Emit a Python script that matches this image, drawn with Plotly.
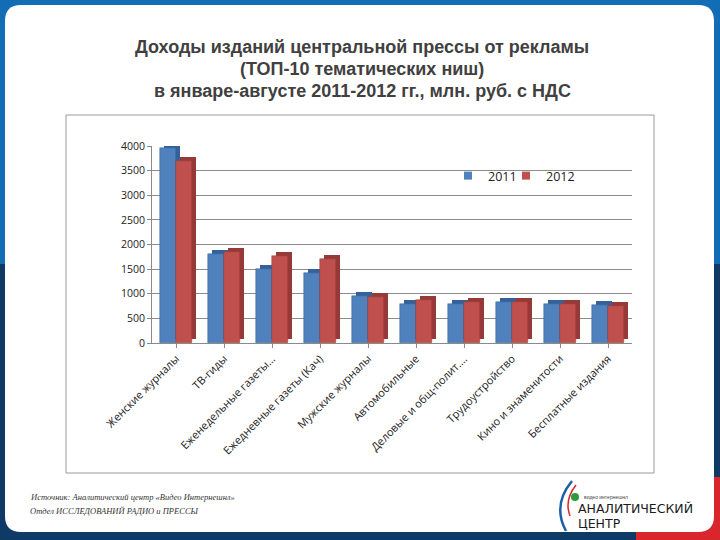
import plotly.graph_objects as go

categories = ["Женские журналы", "ТВ-гиды", "Еженедельные газеты...",
              "Ежедневные газеты (Кач)", "Мужские журналы", "Автомобильные",
              "Деловые и общ-полит....", "Трудоустройство",
              "Кино и знаменитости", "Бесплатные издания"]
values_2011 = [3960, 1810, 1510, 1420, 960, 800, 790, 830, 790, 770]
values_2012 = [3700, 1850, 1770, 1700, 930, 880, 840, 840, 790, 750]
y_ticks = [0, 500, 1000, 1500, 2000, 2500, 3000, 3500, 4000]
series_names = ["2011", "2012"]

W, H = 720, 540
L, R, T, B = 152, 88, 146, 197
PW, PH = W - L - R, H - T - B


def px(x):
    return (x - L) / PW


def py(y):
    return (H - B - y) / PH


front_cols = ["#4f81bd", "#c0504d"]
side_cols = ["#35609a", "#963a37"]
offsets = [-0.33, 0.0]
bw = 0.33
depth_dx = 0.08
depth_dy = 80

fig = go.Figure()
for name, vals, fc, sc, off in zip(series_names, [values_2011, values_2012],
                                   front_cols, side_cols, offsets):
    fig.add_trace(go.Bar(x=categories, y=vals, base=depth_dy, width=bw,
                         offset=off + depth_dx, marker=dict(color=sc, line=dict(width=0)),
                         showlegend=False, hoverinfo="skip"))
    fig.add_trace(go.Bar(x=categories, y=vals, width=bw, offset=off, name=name,
                         showlegend=False,
                         marker=dict(color=fc, line=dict(width=0.5, color=sc))))
for name, fc, lg in zip(series_names, front_cols, ["legend", "legend2"]):
    fig.add_trace(go.Scatter(x=[None], y=[None], mode="markers", name=name, legend=lg,
                             marker=dict(symbol="square", size=8, color=fc)))

shapes = []
# slide background
shapes.append(dict(type="rect", xref="paper", yref="paper", x0=px(-2), x1=px(W + 2),
                   y0=py(-2), y1=py(264), fillcolor="#136db6", line=dict(width=0), layer="below"))
shapes.append(dict(type="rect", xref="paper", yref="paper", x0=px(-2), x1=px(W + 2),
                   y0=py(264), y1=py(H + 2), fillcolor="#103a66", line=dict(width=0), layer="below"))
shapes.append(dict(type="rect", xref="paper", yref="paper", x0=px(712), x1=px(W + 2),
                   y0=py(477), y1=py(H + 2), fillcolor="#d8262c", line=dict(width=0), layer="below"))
shapes.append(dict(type="rect", xref="paper", yref="paper", x0=px(636), x1=px(W + 2),
                   y0=py(527), y1=py(H + 2), fillcolor="#d8262c", line=dict(width=0), layer="below"))
# white rounded panel
x0, x1, y0, y1, r = 5, 714, 5, 532, 16
path = (f"M {px(x0 + r)},{py(y0)} L {px(x1 - r)},{py(y0)} Q {px(x1)},{py(y0)} {px(x1)},{py(y0 + r)} "
        f"L {px(x1)},{py(y1 - r)} Q {px(x1)},{py(y1)} {px(x1 - r)},{py(y1)} "
        f"L {px(x0 + r)},{py(y1)} Q {px(x0)},{py(y1)} {px(x0)},{py(y1 - r)} "
        f"L {px(x0)},{py(y0 + r)} Q {px(x0)},{py(y0)} {px(x0 + r)},{py(y0)} Z")
shapes.append(dict(type="path", xref="paper", yref="paper", path=path,
                   fillcolor="#ffffff", line=dict(width=0), layer="below"))
# chart box
shapes.append(dict(type="rect", xref="paper", yref="paper", x0=px(66), x1=px(654),
                   y0=py(115), y1=py(473), fillcolor="#ffffff",
                   line=dict(width=1, color="#9a9a9a"), layer="below"))
# logo arc
shapes.append(dict(type="path", xref="paper", yref="paper",
                   path=f"M {px(572)},{py(481)} Q {px(552)},{py(505)} {px(566)},{py(531)}",
                   line=dict(width=2.5, color="#1f5fa8")))
shapes.append(dict(type="path", xref="paper", yref="paper",
                   path=f"M {px(576)},{py(485)} Q {px(564)},{py(500)} {px(570)},{py(516)}",
                   line=dict(width=1.5, color="#d8262c")))
shapes.append(dict(type="circle", xref="paper", yref="paper",
                   x0=px(571), x1=px(579), y0=py(493), y1=py(501),
                   fillcolor="#2e9a3e", line=dict(width=0)))

title_font = dict(family="Liberation Sans", size=18, color="#404040")
annotations = []
for i, line in enumerate(["<b>Доходы изданий центральной прессы от рекламы</b>",
                          "<b>(ТОП-10 тематических ниш)</b>",
                          "<b>в январе-августе 2011-2012 гг., млн. руб. с НДС</b>"]):
    annotations.append(dict(text=line, xref="paper", yref="paper", x=px(362), y=py(47 + 22 * i),
                            xanchor="center", yanchor="middle", showarrow=False, font=title_font))
foot_font = dict(family="Liberation Serif", size=8.5, color="#333333")
annotations.append(dict(text="<i>Источник: Аналитический центр «Видео Интернешнл»</i>",
                        xref="paper", yref="paper", x=px(28), y=py(497), xanchor="left",
                        yanchor="middle", showarrow=False, font=foot_font))
annotations.append(dict(text="<i>Отдел ИССЛЕДОВАНИЙ РАДИО и ПРЕССЫ</i>",
                        xref="paper", yref="paper", x=px(28), y=py(511), xanchor="left",
                        yanchor="middle", showarrow=False, font=foot_font))
annotations.append(dict(text="видео интернешнл", xref="paper", yref="paper", x=px(582), y=py(497),
                        xanchor="left", yanchor="middle", showarrow=False,
                        font=dict(family="Liberation Sans", size=5, color="#444444")))
logo_font = dict(family="DejaVu Sans", size=12.5, color="#1a1a1a")
annotations.append(dict(text="АНАЛИТИЧЕСКИЙ", xref="paper", yref="paper", x=px(576), y=py(508.5),
                        xanchor="left", yanchor="middle", showarrow=False, font=logo_font))
annotations.append(dict(text="ЦЕНТР", xref="paper", yref="paper", x=px(576), y=py(523.5),
                        xanchor="left", yanchor="middle", showarrow=False, font=logo_font))

legend_common = dict(orientation="h", y=py(176), xanchor="left", yanchor="middle",
                     font=dict(family="Open Sans", size=12.5, color="#222222"),
                     bgcolor="rgba(0,0,0,0)", itemwidth=30)

fig.update_layout(
    width=W, height=H, margin=dict(l=L, r=R, t=T, b=B, pad=0),
    paper_bgcolor="#ffffff", plot_bgcolor="rgba(0,0,0,0)",
    barmode="overlay", bargap=0,
    shapes=shapes, annotations=annotations,
    legend=dict(x=px(448), **legend_common),
    legend2=dict(x=px(506), **legend_common),
    font=dict(family="Open Sans", size=11, color="#222222"),
    xaxis=dict(type="category", tickangle=-45, showgrid=False, showline=True,
               linecolor="#8a8a8a", linewidth=1, ticks="outside", ticklen=4,
               tickcolor="#8a8a8a", tickfont=dict(family="Open Sans", size=11, color="#222222"),
               range=[-0.5, 9.5], fixedrange=True),
    yaxis=dict(range=[0, 4000], tickvals=y_ticks, showgrid=True, gridcolor="#8c8c8c",
               gridwidth=1, showline=True, linecolor="#8a8a8a", linewidth=1,
               ticks="outside", ticklen=4, tickcolor="#8a8a8a", zeroline=False,
               tickfont=dict(family="Open Sans", size=10.5, color="#222222"), fixedrange=True),
)

fig.write_html("out.html", config={"displayModeBar": False},
               post_script="document.body.style.margin='0';document.body.style.overflow='hidden';")
